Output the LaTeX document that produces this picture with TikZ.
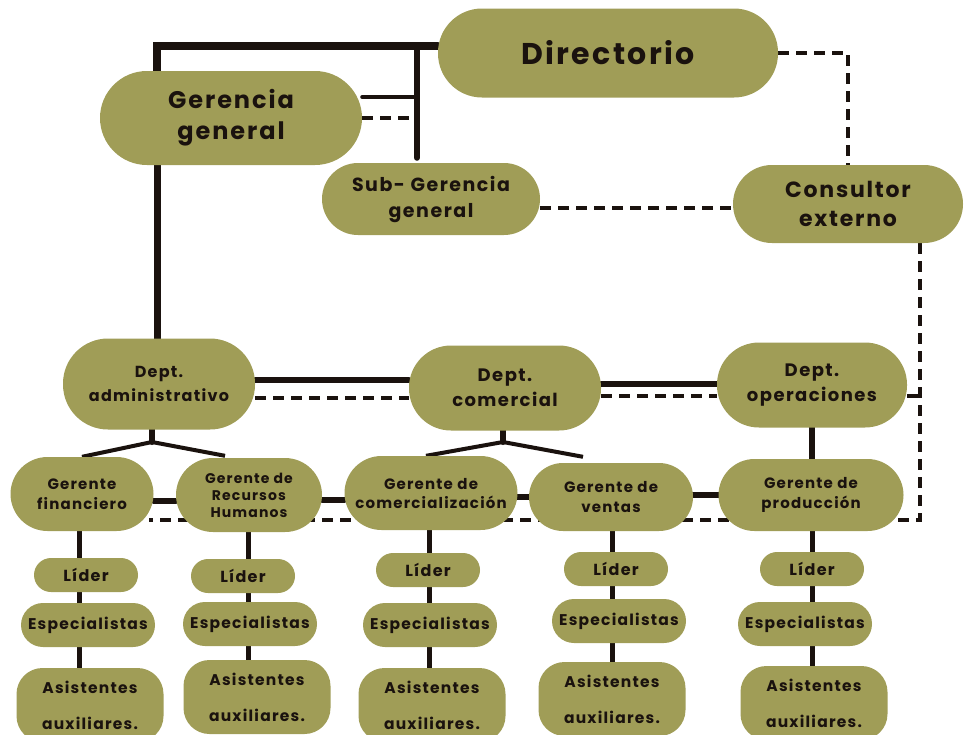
\documentclass[tikz,border=0pt]{standalone}
\usepackage{fontspec}
\setmainfont{Poppins}[LetterSpace=8]
\usepackage{tikz}
\usetikzlibrary{backgrounds}

\definecolor{oliva}{RGB}{160,157,87}
\definecolor{tinta}{RGB}{26,18,14}

\tikzset{
  caja/.style={fill=oliva, rounded corners=#1, align=center, inner sep=0pt,
    text=tinta, font=\bfseries},
  linea/.style={draw=tinta, line width=6pt, line cap=round},
  guion/.style={draw=tinta, line width=4.5pt, dash pattern=on 11pt off 7pt},
  tam/.style 2 args={font=\bfseries\fontsize{#1}{#2}\selectfont}
}

\begin{document}
\begin{tikzpicture}[x=1pt,y=-1pt]
  \useasboundingbox (0,0) rectangle (965,734);

  % cabeza
  \node[caja=44pt, minimum width=340pt, minimum height=89pt, tam={30}{36}]
    (dir) at (608,53) {Directorio};
  \node[caja=47pt, minimum width=262pt, minimum height=94pt, tam={24}{31}]
    (gg) at (231,118) {Gerencia\\general};
  \node[caja=36pt, minimum width=218pt, minimum height=72pt, tam={19}{26}]
    (sg) at (431,199) {Sub- Gerencia\\general};
  \node[caja=39pt, minimum width=230pt, minimum height=78pt, tam={22}{29}]
    (ce) at (848,204) {Consultor\\externo};

  % departamentos
  \node[caja=45pt, minimum width=192pt, minimum height=91pt, tam={16}{24}]
    (da) at (159,384) {Dept.\\administrativo};
  \node[caja=42pt, minimum width=192pt, minimum height=85pt, tam={18}{25}]
    (dc) at (505,388) {Dept.\\comercial};
  \node[caja=42pt, minimum width=190pt, minimum height=85pt, tam={18}{25}]
    (do) at (812,385) {Dept.\\operaciones};

  % gerentes
  \node[caja=37pt, minimum width=143pt, minimum height=74pt, tam={15}{20}]
    (gf) at (82,494) {Gerente\\financiero};
  \node[caja=37pt, minimum width=146pt, minimum height=74pt, tam={14}{17}]
    (gr) at (249,495) {Gerente de\\Recursos\\Humanos};
  \node[caja=37pt, minimum width=173pt, minimum height=74pt, tam={15}{19}]
    (gc) at (431,493) {Gerente de\\comercialización};
  \node[caja=34pt, minimum width=164pt, minimum height=68pt, tam={15}{20}]
    (gv) at (611,497) {Gerente de\\ventas};
  \node[caja=36pt, minimum width=185pt, minimum height=72pt, tam={15}{20}]
    (gp) at (811,495) {Gerente de\\producción};

  % equipos
  \foreach \i/\x/\y in {1/86/575,2/243/576,3/428/570,4/616/569,5/812/569}
    \node[caja=17pt, minimum width=104pt, minimum height=34pt, tam={16}{18}]
      (l\i) at (\x,\y) {Líder};
  \foreach \i/\x/\y in {1/88/625,2/250/624,3/430/625,4/619/621,5/805/624}
    \node[caja=22pt, minimum width=134pt, minimum height=44pt, tam={15.5}{18}]
      (e\i) at (\x,\y) {Especialistas};
  \foreach \i/\x/\y in {1/90/705,2/257/697,3/432/705,4/612/699,5/814/703}
    \node[caja=26pt, minimum width=147pt, minimum height=74pt, tam={15.5}{36}]
      (a\i) at (\x,\y) {Asistentes\\auxiliares.};

  \coordinate (esq) at (157,46);
  \coordinate (bar) at (417,46);
  \coordinate (vd) at (920,520);
  \coordinate (ra) at (152,442);
  \coordinate (rc) at (503,442);
  \foreach \i/\x in {1/79,2/248,3/429,4/612,5/812}
    \coordinate (k\i) at (\x,0);

  \begin{scope}[on background layer]
    \draw[linea, line width=8pt] ([yshift=7pt]dir.west) -- (esq) -- (esq |- gg.north);
    \draw[linea] (bar) -- ([yshift=5pt]bar |- sg.north);
    \draw[linea, line width=4pt] ([yshift=21pt]gg.east) -- ([yshift=21pt]gg.east -| bar);
    \draw[guion] (gg.east) -- (gg.east -| bar);
    \draw[linea, line width=7pt] (gg.south -| esq) -- (da.north -| esq);
    \draw[guion] (dir.east) -| (ce.north);
    \draw[guion] ([yshift=-9pt]sg.east) -- ([yshift=-9pt]sg.east -| ce.west);
    \draw[guion] (ce.south -| vd) -- (vd) -- ([xshift=-5pt]vd -| gf.east);
    \draw[guion] ([yshift=-11pt]do.east) -- ([yshift=-11pt]do.east -| vd);

    \draw[linea] ([yshift=4pt]da.east) -- ([yshift=4pt]da.east -| dc.west);
    \draw[guion] ([yshift=-14pt]da.east) -- ([yshift=-14pt]da.east -| dc.west);
    \draw[linea] ([yshift=4pt]dc.east) -- ([yshift=4pt]dc.east -| do.west);
    \draw[guion] ([yshift=-8pt]dc.east) -- ([yshift=-8pt]dc.east -| do.west);

    \draw[linea] (ra |- da.south) -- (ra);
    \draw[linea, line width=4pt, line cap=butt] (gf.north) -- (ra) -- ([xshift=-24pt,yshift=2pt]gr.north);
    \draw[linea] (rc |- dc.south) -- (rc);
    \draw[linea, line width=4pt, line cap=butt] ([xshift=-5pt]gc.north) -- (rc) -- ([xshift=-28pt,yshift=6pt]gv.north);
    \draw[linea] (do.south) -- (do.south |- gp.north);

    \draw[linea] ([yshift=-7pt]gf.east) -- ([yshift=-7pt]gf.east -| gr.west);
    \draw[linea] ([yshift=-5pt]gr.east) -- ([yshift=-5pt]gr.east -| gc.west);
    \draw[linea] ([yshift=-4pt]gc.east) -- ([yshift=-4pt]gc.east -| gv.west);
    \draw[linea] ([yshift=2pt]gv.east) -- ([yshift=2pt]gv.east -| gp.west);

    \draw[linea, line width=5pt] (k1 |- gf.south) -- (k1 |- a1.north);
    \draw[linea, line width=5pt] (k2 |- gr.south) -- (k2 |- a2.north);
    \draw[linea, line width=5pt] (k3 |- gc.south) -- (k3 |- a3.north);
    \draw[linea, line width=5pt] (k4 |- gv.south) -- (k4 |- a4.north);
    \draw[linea, line width=5pt] (k5 |- gp.south) -- (k5 |- a5.north);
  \end{scope}
\end{tikzpicture}
\end{document}
